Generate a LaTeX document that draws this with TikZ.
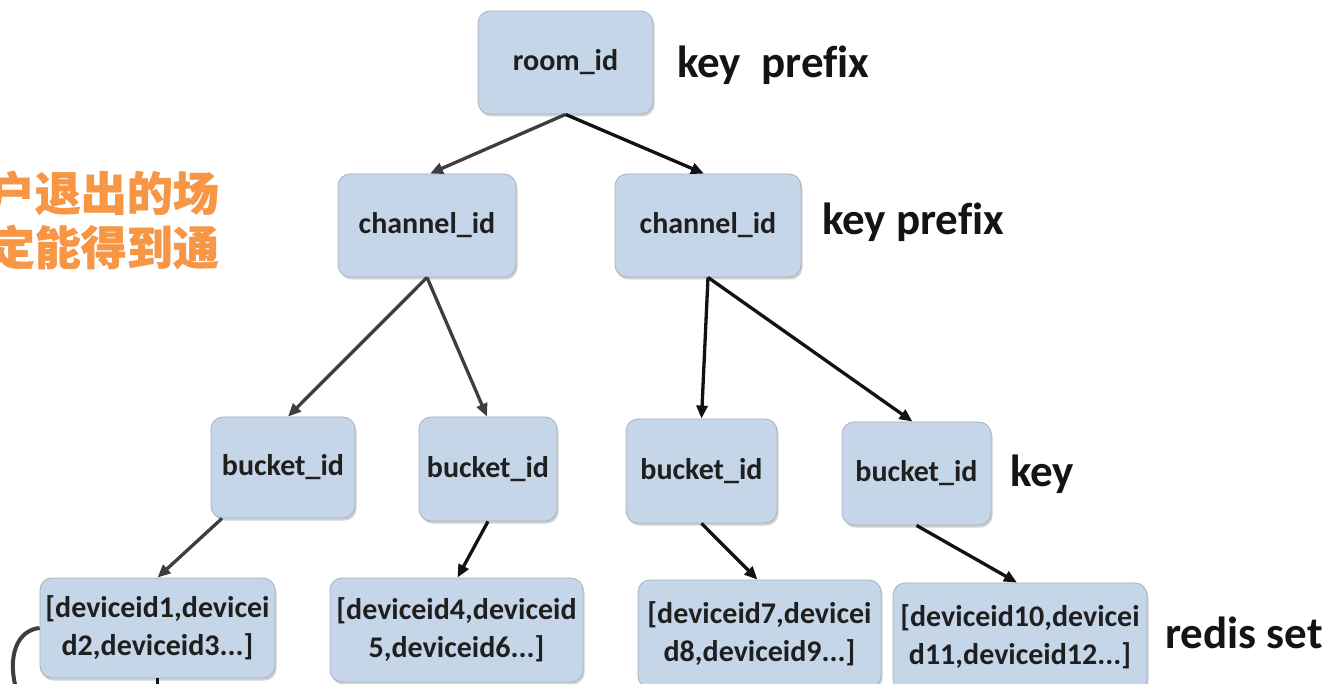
\documentclass[tikz,border=0pt]{standalone}
\usepackage{fontspec}
\setmainfont{Carlito}[Ligatures=CommonOff]
\newfontfamily\cjk{Noto Sans CJK SC}[BoldFeatures={FakeBold=1.2}]
\usetikzlibrary{arrows.meta,shadows}
\definecolor{boxfill}{RGB}{197,214,232}
\definecolor{boxedge}{RGB}{165,178,194}
\definecolor{notecolor}{RGB}{247,151,70}
\definecolor{linkgrey}{RGB}{62,62,62}
\definecolor{linkdark}{RGB}{18,18,18}
\begin{document}
\begin{tikzpicture}[x=1pt,y=-1pt,
  idbox/.style={draw=boxedge, line width=0.8pt, fill=boxfill,
    rounded corners=12pt, inner sep=0pt, align=center,
    font=\bfseries\fontsize{30}{38}\selectfont, text=black!88,
    drop shadow={shadow xshift=1.5pt, shadow yshift=-2.5pt,
      opacity=0.45, fill=gray!80}},
  tag/.style={anchor=base west, inner sep=0pt, text=black!92,
    font=\bfseries\fontsize{45}{54}\selectfont},
  note/.style={anchor=east, inner sep=0pt, text=notecolor,
    font=\cjk\bfseries\fontsize{46}{52}\selectfont},
  link/.style={line width=3.3pt, -{Triangle[length=13pt,width=11pt]}},
  greylink/.style={link, draw=linkgrey, color=linkgrey},
  darklink/.style={link, draw=linkdark, color=linkdark}
]
\fill[white] (0,0) rectangle (1334,684);
\useasboundingbox (0,0) rectangle (1334,684);
\clip (0,0) rectangle (1334,684);

% side note, partly cut off at the left edge
\node[note] (noteA) at (219,193) {户退出的场};
\node[note] (noteB) at (219,247) {定能得到通};

% tree of keys
\node[idbox, minimum width=175pt, minimum height=103pt] (room) at (565.5,62.5) {room\_id};

\node[idbox, minimum width=178pt, minimum height=103pt] (chL) at (427,225.5) {channel\_id};
\node[idbox, minimum width=186pt, minimum height=103pt] (chR) at (708,225.5) {channel\_id};

\node[idbox, minimum width=144pt, minimum height=101pt] (b1) at (283,467.5) {bucket\_id};
\node[idbox, minimum width=138pt, minimum height=104pt] (b2) at (488,469) {bucket\_id};
\node[idbox, minimum width=151pt, minimum height=104pt] (b3) at (701.5,471) {bucket\_id};
\node[idbox, minimum width=149pt, minimum height=103pt] (b4) at (916.5,473.5) {bucket\_id};

\node[idbox, minimum width=235pt, minimum height=100pt] (dev1) at (157.5,628) {[deviceid1,devicei\\d2,deviceid3...]};
\node[idbox, minimum width=253pt, minimum height=104pt] (dev2) at (456.5,630) {[deviceid4,deviceid\\5,deviceid6...]};
\node[idbox, minimum width=243pt, minimum height=108pt] (dev3) at (759.5,634) {[deviceid7,devicei\\d8,deviceid9...]};
\node[idbox, minimum width=254pt, minimum height=108pt] (dev4) at (1020,637) {[deviceid10,devicei\\d11,deviceid12...]};

% level labels
\node[tag] (lblRoom) at (677,78) {key\ \ prefix};
\node[tag] (lblChannel) at (822,235) {key prefix};
\node[tag] (lblBucket) at (1010,486) {key};
\node[tag] (lblSet) at (1165,648) {redis set};

% connectors
\draw[greylink] (room.south) -- ([xshift=3pt]chL.north);
\draw[darklink] (room.south) -- ([xshift=-4pt]chR.north);
\draw[greylink] (chL.south) -- ([xshift=5pt]b1.north);
\draw[greylink] (chL.south) -- ([xshift=-1pt]b2.north);
\draw[darklink] (chR.south) -- (b3.north);
\draw[darklink] (chR.south) -- ([xshift=-4pt]b4.north);
\draw[greylink] ([xshift=-61pt]b1.south) -- (dev1.north);
\draw[darklink] (b2.south) -- ([xshift=1pt]dev2.north);
\draw[darklink] (b3.south) -- ([xshift=-2pt]dev3.north);
\draw[darklink] (b4.south) -- ([xshift=-3pt]dev4.north);

% links leaving the first set, cut off at the lower edge
\coordinate (loopEnd) at (17,692);
\coordinate (downEnd) at (157.5,692);
\draw[linkgrey, line width=4pt] (dev1.west) .. controls (18,630) and (6,655) .. (loopEnd);
\draw[linkdark, line width=3.3pt] (dev1.south) -- (downEnd);
\end{tikzpicture}
\end{document}
